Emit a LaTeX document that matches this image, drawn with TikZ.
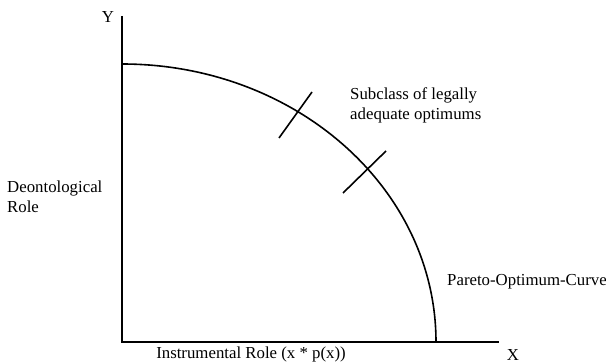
\documentclass[tikz,border=0pt]{standalone}
\usepackage{fontspec}
\setmainfont{Liberation Serif}
\begin{document}
\begin{tikzpicture}[x=1pt,y=1pt,
  axis/.style={line width=1.7pt},
  curve/.style={line width=1.6pt},
  tick/.style={line width=1.6pt},
  lbl/.style={inner sep=0pt,font=\fontsize{16.8}{20}\selectfont}]
\useasboundingbox (0,0) rectangle (606,364);
\coordinate (O) at (122,22);
\coordinate (Ytop) at (122,348);
\coordinate (Xend) at (499,22);
\coordinate (C0) at (122,300);
\draw[axis] (Ytop) -- (O) -- (Xend);
\draw[curve] (C0) arc (90:0:314 and 278) coordinate (C1);
\coordinate (t1a) at (312,272);
\coordinate (t1b) at (279,226);
\coordinate (t2a) at (386,213);
\coordinate (t2b) at (343,171);
\draw[tick] (t1a) -- (t1b);
\draw[tick] (t2a) -- (t2b);
\node[lbl] (ylab) at (108,347) {Y};
\node[lbl] (xlab) at (513,9) {X};
\node[lbl] (ilab) at (251,10) {Instrumental Role (x * p(x))};
\node[lbl,align=left,anchor=west] (dlab) at (7,167) {Deontological\\Role};
\node[lbl,align=left,anchor=west] (slab) at (350,259) {Subclass of legally\\adequate optimums};
\node[lbl,anchor=west] (plab) at (447,82) {Pareto-Optimum-Curve};
\end{tikzpicture}
\end{document}
